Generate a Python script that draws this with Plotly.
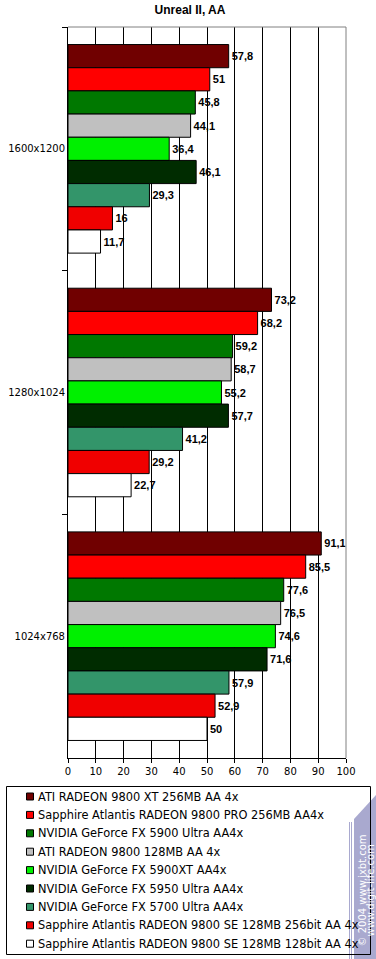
import plotly.graph_objects as go

categories = ["1600x1200", "1280x1024", "1024x768"]
series_names = [
    "ATI RADEON 9800 XT 256MB AA 4x",
    "Sapphire Atlantis RADEON 9800 PRO 256MB AA4x",
    "NVIDIA GeForce FX 5900 Ultra AA4x",
    "ATI RADEON 9800 128MB AA 4x",
    "NVIDIA GeForce FX 5900XT AA4x",
    "NVIDIA GeForce FX 5950 Ultra AA4x",
    "NVIDIA GeForce FX 5700 Ultra AA4x",
    "Sapphire Atlantis RADEON 9800 SE 128MB 256bit AA 4x",
    "Sapphire Atlantis RADEON 9800 SE 128MB 128bit AA 4x",
]
series_values = [
    [57.8, 73.2, 91.1],
    [51, 68.2, 85.5],
    [45.8, 59.2, 77.6],
    [44.1, 58.7, 76.5],
    [36.4, 55.2, 74.6],
    [46.1, 57.7, 71.6],
    [29.3, 41.2, 57.9],
    [16, 29.2, 52.9],
    [11.7, 22.7, 50],
]
series_colors = ["#700000", "#FF0000", "#007800", "#C0C0C0", "#00F000",
                 "#002C00", "#33956A", "#F00000", "#FFFFFF"]
x_ticks = [0, 10, 20, 30, 40, 50, 60, 70, 80, 90, 100]
watermark_lines = ["© 2004 www.ixbt.com", "www.digit-life.com"]

W, H = 376, 959
PL, PR, PT, PB = 68, 346, 27, 758   # plot area in page pixels
ML, MR, MT, MB = PL, W - PR, PT, H - PB
PW, PH = PR - PL, PB - PT
WM = "#A9A9CF"


def px(x):
    return (x - PL) / PW


def py(y):
    return (PB - y) / PH


def fmt(v):
    return ("%g" % v).replace(".", ",")


fig = go.Figure()
for name, vals, col in zip(series_names, series_values, series_colors):
    fig.add_trace(go.Bar(
        y=categories, x=vals, name=name, orientation="h",
        marker=dict(color=col, line=dict(color="black", width=1)),
        text=[fmt(v) for v in vals], textposition="outside",
        textfont=dict(family="Liberation Sans", size=11, color="black", weight="bold"),
        cliponaxis=False, showlegend=False,
    ))

shapes = [
    dict(type="line", xref="paper", yref="paper", x0=0, x1=1, y0=1, y1=1,
         line=dict(color="#808080", width=1)),
    dict(type="line", xref="paper", yref="paper", x0=1, x1=1, y0=0, y1=1,
         line=dict(color="#808080", width=1)),
    # legend background
    dict(type="rect", xref="paper", yref="paper", x0=px(6.5), x1=px(370.5), y0=py(954.5), y1=py(786.5),
         line=dict(width=0), fillcolor="white"),
]
annotations = []

# watermark band
shapes.append(dict(type="path", xref="paper", yref="paper",
                   path="M %f,%f L %f,%f L %f,%f L %f,%f Z" % (
                       px(377), py(794), px(354), py(819), px(354), py(960), px(377), py(960)),
                   fillcolor=WM, line=dict(width=0)))
for xl in (349.5, 351.5):
    shapes.append(dict(type="line", xref="paper", yref="paper", x0=px(xl), x1=px(xl),
                       y0=py(960), y1=py(822), line=dict(color=WM, width=1)))
for xc, t in zip((361.5, 369.5), watermark_lines):
    annotations.append(dict(text=t, xref="paper", yref="paper",
                            x=px(xc), y=py(891), textangle=-90, showarrow=False,
                            xanchor="center", yanchor="middle",
                            font=dict(family="DejaVu Sans", size=10, color="white")))

# legend border (over watermark)
shapes.append(dict(type="rect", xref="paper", yref="paper", x0=px(6.5), x1=px(370.5),
                   y0=py(954.5), y1=py(786.5), line=dict(color="black", width=1)))

# legend entries
for i, (name, col) in enumerate(zip(series_names, series_colors)):
    yc = 796.5 + i * 18.4
    shapes.append(dict(type="rect", xref="paper", yref="paper",
                       x0=px(26.5), x1=px(33.5), y0=py(yc + 3.5), y1=py(yc - 3.5),
                       fillcolor=col, line=dict(color="black", width=1)))
    annotations.append(dict(text=name, xref="paper", yref="paper", x=px(35.5), y=py(yc),
                            xanchor="left", yanchor="middle", showarrow=False,
                            font=dict(family="DejaVu Sans", size=11.4, color="black")))

fig.update_layout(
    width=W, height=H,
    margin=dict(l=ML, r=MR, t=MT, b=MB, autoexpand=False),
    paper_bgcolor="white", plot_bgcolor="white",
    barmode="group", bargap=0.144, bargroupgap=0,
    showlegend=False,
    title=dict(text="<b>Unreal II, AA</b>", x=190 / W, xanchor="center",
               y=1 - 9.5 / H, yanchor="middle",
               font=dict(family="Liberation Sans", size=12, color="black")),
    font=dict(family="Liberation Sans", size=11, color="black"),
    xaxis=dict(
        range=[0, 100], tickvals=x_ticks, ticktext=[str(t) for t in x_ticks],
        showgrid=True, gridcolor="black", gridwidth=1,
        ticks="outside", ticklen=4, tickcolor="black",
        showline=True, linecolor="black", linewidth=1, zeroline=False,
        tickfont=dict(family="DejaVu Sans", size=10),
    ),
    yaxis=dict(
        type="category", autorange="reversed",
        showline=True, linecolor="black", linewidth=1,
        ticks="outside", ticklen=5, tickcolor="black", tickson="boundaries",
        showgrid=False, tickfont=dict(family="DejaVu Sans", size=10),
    ),
    shapes=shapes,
    annotations=annotations,
)

fig.write_html("out.html", config={"displayModeBar": False},
               post_script="document.body.style.margin='0px';")
